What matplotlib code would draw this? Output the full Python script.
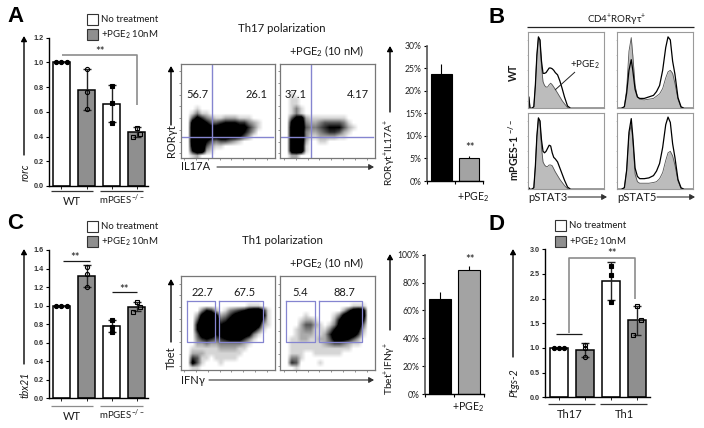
import matplotlib
matplotlib.use('Agg')
import matplotlib.pyplot as plt
import numpy as np

plt.rcParams['font.family'] = ['Lato', 'Open Sans', 'DejaVu Sans']
plt.rcParams['mathtext.default'] = 'regular'

W, H = 704, 428
GREY = '#8c8c8c'
BLUE = '#8585d0'

# bar panels
a_vals = [1.0, 0.78, 0.665, 0.435]
a_err = [0.0, 0.165, 0.15, 0.04]
a_pts = [[1.0, 1.0, 1.0], [0.95, 0.76, 0.62], [0.81, 0.67, 0.51], [0.47, 0.42, 0.40]]
c_vals = [1.0, 1.32, 0.78, 0.99]
c_err = [0.0, 0.12, 0.06, 0.05]
c_pts = [[1.0, 1.0, 1.0], [1.42, 1.34, 1.2], [0.85, 0.77, 0.72], [1.04, 0.99, 0.93]]
d_vals = [1.0, 0.96, 2.36, 1.56]
d_err = [0.0, 0.14, 0.39, 0.29]
d_pts = [[1.0, 1.0, 1.0], [1.07, 1.0, 0.81], [2.67, 2.47, 1.93], [1.85, 1.57, 1.26]]
pct_a = [23.8, 5.2]
pct_a_err = [2.1, 0.4]
pct_c = [68, 89]
pct_c_err = [5.5, 3]

# flow plots, read as density on a 20x20 grid, 0 empty to 9 black
flow_a1 = ["0" * 20] * 9 + [
    "00010000000000000000",
    "00131100000000000000",
    "00475321122211100000",
    "00898644566655321000",
    "00999877888877531000",
    "00999888999886420000",
    "00999877887764200000",
    "00999643443210000000",
    "00899421100000000000",
    "00699210000000000000",
    "00120000000000000000"]
flow_a2 = ["0" * 20] * 6 + [
    "00100000000000000000",
    "00110000000000000000",
    "00110000000000000000",
    "00131000000000000000",
    "00131000000000000000",
    "00478211111111000000",
    "00799322344443100000",
    "00899433456664210000",
    "00899322345542100000",
    "00899311222211000000",
    "00899200110000000000",
    "00899100000000000000",
    "00899100000000000000",
    "00220000000000000000"]
flow_a2 = flow_a2[:20]
flow_c1 = ["0" * 20] * 6 + [
    "00000000000000111000",
    "00003652013456899610",
    "00027997235789999810",
    "00049999457899999510",
    "00069999678999998210",
    "00069998789999974100",
    "00048886789998731000",
    "00035654567775310000",
    "00022322333332100000",
    "00111111222211000000",
    "00222111111110000000",
    "00541101111100000000",
    "00741000100000000000",
    "00110000000000000000"]
flow_c2 = ["0" * 20] * 6 + [
    "00000000000000011100",
    "00000000000002589800",
    "00000100000137999900",
    "00001221000269999700",
    "00002442101379999400",
    "00012331113699997200",
    "00012221125899985100",
    "00112211224777642000",
    "00111111123443211000",
    "00111111111111100000",
    "00111001111110000000",
    "00331000000000000000",
    "00540000100000000000",
    "00010000000000000000"]

# histograms: channel position, then height as a share of the frame
s3_x = [0, .015, .03, .05, .08, .10, .12, .14, .16, .18, .20, .22, .24, .26, .28, .30, .32, .34, .36, .39, .42, .45, .48, .52, .56, 1]
s3_wt_fill = [0, .15, 0, 0, .02, .3, .7, .93, .9, .55, .35, .30, .28, .28, .31, .33, .31, .28, .25, .20, .15, .10, .06, .01, 0, 0]
s3_wt_line = [0, .15, 0, 0, .02, .3, .7, .94, .9, .62, .46, .46, .47, .50, .53, .53, .52, .50, .47, .44, .36, .26, .15, .03, 0, 0]
s3_ko_fill = [0, .02, 0, 0, .02, .3, .7, .93, .9, .55, .36, .32, .30, .30, .32, .32, .31, .27, .23, .18, .13, .09, .05, .01, 0, 0]
s3_ko_line = [0, .02, 0, 0, .02, .3, .7, .94, .9, .65, .50, .48, .50, .54, .58, .57, .48, .42, .40, .36, .28, .20, .12, .03, 0, 0]
s5_x = [0, .06, .10, .13, .16, .19, .21, .24, .27, .30, .36, .42, .48, .52, .56, .60, .64, .67, .70, .73, .76, .80, .84, .88, 1]
s5_wt_fill = [0, 0, .02, .25, .75, .93, .7, .3, .15, .12, .11, .12, .13, .16, .19, .26, .40, .48, .50, .46, .33, .12, .01, 0, 0]
s5_wt_line = [0, 0, .02, .2, .5, .64, .5, .25, .15, .13, .13, .15, .17, .22, .30, .50, .80, .94, .90, .62, .45, .14, .02, 0, 0]
s5_ko_fill = [0, 0, .02, .25, .7, .85, .65, .2, .1, .08, .08, .08, .09, .10, .14, .22, .38, .48, .50, .44, .32, .11, .01, 0, 0]
s5_ko_line = [0, 0, .02, .25, .75, .93, .7, .28, .17, .14, .14, .15, .18, .24, .34, .55, .85, .95, .88, .60, .42, .13, .02, 0, 0]

legend_labels = ['No treatment', '+PGE$_2$ 10nM']
groups_ko = ['WT', 'mPGES$^{-/-}$']
groups_d = ['Th17', 'Th1']

fig = plt.figure(figsize=(W / 100, H / 100), dpi=100)


def px_axes(x0, y0, x1, y1):
    return fig.add_axes([x0 / W, 1 - y1 / H, (x1 - x0) / W, (y1 - y0) / H])


def scale_style(ax, lw=1.0):
    for s in ['top', 'right']:
        ax.spines[s].set_visible(False)
    for s in ['left', 'bottom']:
        ax.spines[s].set_linewidth(lw)
    ax.patch.set_alpha(0)


def dot_bars(box, xcenter, step, ymax, yticks, vals, errs, pts):
    x0, y0, x1, y1 = box
    ax = px_axes(x0, y0, x1, y1)
    pos = np.arange(4)
    cols = ['white', '#8f8f8f', 'white', '#8f8f8f']
    ax.bar(pos, vals, width=0.68, color=cols, edgecolor='black', linewidth=1.1, zorder=2)
    ax.errorbar(pos, vals, yerr=errs, fmt='none', ecolor='#222222', elinewidth=1, capsize=3,
                capthick=1, zorder=3)
    for i in pos:
        off = [-0.2, 0, 0.2] if errs[i] == 0 else [0, 0, 0]
        if i == 3:
            off = [0, 0.14, -0.14]
        face = 'black' if i in (0, 2) else 'none'
        mk = 'o' if i < 2 else 's'
        ax.plot(pos[i] + np.array(off), pts[i], ls='none', marker=mk, ms=3, mfc=face, mec='black',
                mew=0.8, zorder=4)
    ax.set_xlim((x0 - xcenter) / step, (x1 - xcenter) / step)
    ax.set_ylim(0, ymax)
    ax.set_yticks(yticks)
    ax.set_yticklabels(['%.1f' % v for v in yticks], fontfamily='Liberation Sans', fontweight='bold',
                       fontsize=5.2, color='#333333')
    ax.set_xticks(pos)
    ax.set_xticklabels([])
    ax.tick_params(axis='y', length=2.5, width=0.8, pad=1.5)
    ax.tick_params(axis='x', length=2, width=0.6)
    scale_style(ax)
    return ax


def pct_bars(box, ymax, yticks, vals, errs):
    x0, y0, x1, y1 = box
    ax = px_axes(x0, y0, x1, y1)
    ax.bar([0, 1], vals, width=0.74, color=['black', '#a3a3a3'], edgecolor='black', linewidth=0.8,
           yerr=[[0, 0], errs], error_kw=dict(ecolor='black', elinewidth=0.8))
    ax.set_xlim(-0.5, 1.5)
    ax.set_ylim(0, ymax)
    ax.set_yticks(yticks)
    ax.set_yticklabels(['%d%%' % v for v in yticks], fontsize=6.2, color='#222222')
    ax.set_xticks([-0.5, 0.5, 1.5])
    ax.set_xticklabels([])
    ax.tick_params(axis='y', length=2.5, width=0.8, pad=1.5)
    ax.tick_params(axis='x', length=2.5, width=0.8)
    scale_style(ax)
    ax.spines['left'].set_color('#555555')
    ax.spines['left'].set_linewidth(1.2)


def flow_plot(box, rows, gates=None, cross=None):
    ax = px_axes(*box)
    grid = np.array([[int(c) for c in r] for r in rows])
    ax.imshow(grid, cmap='gray_r', vmin=0, vmax=6, extent=[0, 1, 1, 0], aspect='auto',
              interpolation='bilinear')
    if cross:
        ax.axvline(cross[0], color=BLUE, lw=1)
        ax.axhline(cross[1], color=BLUE, lw=1, xmin=0, xmax=0.98)
    for g in gates or []:
        ax.plot([g[0], g[1], g[1], g[0], g[0]], [g[2], g[2], g[3], g[3], g[2]], color=BLUE, lw=0.9)
    ax.set_xlim(0, 1)
    ax.set_ylim(1, 0)
    ax.set_xticks(np.arange(0.04, 1, 0.125))
    ax.set_yticks(np.arange(0.08, 1, 0.125))
    ax.set_xticklabels([])
    ax.set_yticklabels([])
    ax.tick_params(length=1.5, width=0.5, color='#666666')
    for s in ax.spines.values():
        s.set_color('#777777')
        s.set_linewidth(0.9)


def hist_plot(box, x, fill, line):
    ax = px_axes(*box)
    ax.fill_between(x, fill, color='#bcbcbc', lw=0)
    ax.plot(x, fill, color='#555555', lw=0.6)
    ax.plot(x, line, color='black', lw=0.9)
    ax.set_xlim(0, 1)
    ax.set_ylim(0, 1)
    ax.set_xticks([])
    ax.set_yticks(np.arange(0.1, 1, 0.2))
    ax.set_yticklabels([])
    ax.tick_params(length=1, width=0.4, color='#999999')
    for s in ax.spines.values():
        s.set_color('#9a9a9a')
        s.set_linewidth(0.8)


dot_bars((49, 37.7, 148, 186), 61.5, 25, 1.2, [0, .2, .4, .6, .8, 1.0, 1.2], a_vals, a_err, a_pts)
dot_bars((49, 250, 148, 398.3), 61.5, 25, 1.6, [0, .2, .4, .6, .8, 1.0, 1.2, 1.4, 1.6], c_vals, c_err, c_pts)
dot_bars((545, 249.3, 650, 397.3), 559, 26, 3.0, [0, .5, 1.0, 1.5, 2.0, 2.5, 3.0], d_vals, d_err, d_pts)
pct_bars((427.3, 45.7, 483, 181), 30, [0, 5, 10, 15, 20, 25, 30], pct_a, pct_a_err)
pct_bars((425, 254.7, 484, 394), 100, [0, 20, 40, 60, 80, 100], pct_c, pct_c_err)

flow_plot((180.7, 63.7, 274.7, 157.7), flow_a1, cross=(0.33, 0.775))
flow_plot((280.3, 63.7, 374.7, 157.7), flow_a2, cross=(0.32, 0.775))
flow_plot((180.7, 276, 274.7, 370.3), flow_c1,
          gates=[(0.065, 0.363, 0.27, 0.70), (0.41, 0.875, 0.27, 0.70)])
flow_plot((280.3, 276, 374.7, 370.3), flow_c2,
          gates=[(0.06, 0.365, 0.27, 0.70), (0.41, 0.87, 0.27, 0.70)])

hist_plot((527.7, 32.3, 604.3, 108.3), s3_x, s3_wt_fill, s3_wt_line)
hist_plot((616.7, 32.3, 693.3, 108.3), s5_x, s5_wt_fill, s5_wt_line)
hist_plot((527.7, 113.3, 604.3, 189.3), s3_x, s3_ko_fill, s3_ko_line)
hist_plot((616.7, 113.3, 693.3, 189.3), s5_x, s5_ko_fill, s5_ko_line)

# everything else sits on a full-figure layer in pixel coordinates
ov = fig.add_axes([0, 0, 1, 1])
ov.set_xlim(0, W)
ov.set_ylim(H, 0)
ov.axis('off')
ov.patch.set_alpha(0)


def arrow(x0, y0, x1, y1, color='black', lw=1.0):
    ov.annotate('', xy=(x1, y1), xytext=(x0, y0),
                arrowprops=dict(arrowstyle='-|>,head_width=0.17,head_length=0.3', color=color, lw=lw,
                                shrinkA=0, shrinkB=0))


def label(x, y, s, size=8, **kw):
    kw.setdefault('ha', 'center')
    kw.setdefault('va', 'center')
    kw.setdefault('color', '#1a1a1a')
    ov.text(x, y, s, fontsize=size, **kw)


def legend(x, y0, y1):
    for y, col, txt in zip((y0, y1), ('white', '#8f8f8f'), legend_labels):
        ov.add_patch(plt.Rectangle((x, y), 11, 11, fc=col, ec='#333333', lw=0.8))
        label(x + 14, y + 5.5, txt, size=6.9, ha='left')


def line(xs, ys, color='#1a1a1a', lw=0.9):
    ov.plot(xs, ys, color=color, lw=lw, solid_capstyle='butt')


for s, x, y in (('A', 15, 16), ('B', 497, 17), ('C', 15, 223), ('D', 497, 224)):
    label(x, y, s, size=16, fontweight='bold', fontfamily='Liberation Sans', color='black')

legend(87, 13.5, 29)
legend(87, 221, 236)
legend(555, 220, 236)

# panel A and C gene labels and arrows
arrow(24, 155, 24, 36)
label(25, 172, 'rorc', size=7.6, rotation=90, style='italic')
arrow(24, 364, 24, 249)
label(25, 385, 'tbx21', size=7.6, rotation=90, style='italic')
arrow(513, 357, 513, 249)
label(514, 383, 'Ptgs-2', size=7.6, rotation=90, style='italic')

for y_line, y_txt, col in ((191, 201, '#333333'), (406, 416, GREY)):
    line([51, 93], [y_line, y_line], color=col)
    line([100, 143], [y_line, y_line], color=col)
    label(72, y_txt, groups_ko[0], size=8)
    label(122, y_txt - 1, groups_ko[1], size=7)
line([548, 595], [404, 404], color='#333333')
line([600, 647], [404, 404], color='#333333')
label(570, 414, groups_d[0], size=8)
label(624, 414, groups_d[1], size=8)

# significance marks
line([62, 137, 137], [55, 55, 105], color=GREY, lw=1.2)
label(100, 51, '**', size=8)
line([63, 90], [261, 261])
label(75, 258, '**', size=8)
line([112, 137], [292, 292])
label(124, 289, '**', size=8)
line([569, 569, 635, 635], [333, 258, 258, 299], color=GREY, lw=1.2)
line([556, 582], [334, 334])
label(612, 253, '**', size=8)

# Th17 flow labels
label(282, 28, 'Th17 polarization', size=8.2)
label(327, 51, '+PGE$_2$ (10 nM)', size=8)
for x, s in ((197, '56.7'), (257, '26.1'), (296, '37.1'), (358, '4.17')):
    label(x, 94, s, size=8)
arrow(171, 125, 171, 66)
label(171, 141, 'RORγt', size=8, rotation=90)
label(195.5, 167, 'IL17A', size=8)
arrow(217, 167, 374, 167, color='#333333', lw=0.8)

# Th1 flow labels
label(282, 240, 'Th1 polarization', size=8.2)
label(327, 263, '+PGE$_2$ (10 nM)', size=8)
for x, s in ((202, '22.7'), (244, '67.5'), (300, '5.4'), (344, '88.7')):
    label(x, 292, s, size=8)
arrow(171, 342, 171, 279)
label(171, 358, 'Tbet', size=8, rotation=90)
label(193, 380, 'IFNγ', size=8)
arrow(209, 380, 374, 380, color='#333333', lw=0.8)

# percentage bars
arrow(390, 112, 390, 46)
label(390, 152, 'RORγt$^{+}$IL17A$^{+}$', size=7.4, rotation=90)
label(473, 197, '+PGE$_2$', size=7.6)
label(470, 148, '**', size=8)
arrow(390, 330, 390, 254)
label(390, 368, 'Tbet$^{+}$IFNγ$^{+}$', size=7.4, rotation=90)
label(468, 407, '+PGE$_2$', size=7.6)
label(470, 259, '**', size=8)

# panel B
label(617, 20, 'CD4$^{+}$RORγτ$^{+}$', size=7)
line([527, 694], [27, 27], color='#222222', lw=0.9)
label(513, 72, 'WT', size=7.6, rotation=90, fontweight='bold')
label(514, 150, 'mPGES-1 $^{-/-}$', size=7.6, rotation=90, fontweight='bold')
label(548, 197, 'pSTAT3', size=8)
arrow(568, 197, 607, 197, color='#333333', lw=0.8)
label(637, 197, 'pSTAT5', size=8)
arrow(657, 197, 695, 197, color='#333333', lw=0.8)
label(585, 65, '+PGE$_2$', size=7)
line([575, 555], [72, 90], color='#222222', lw=0.7)

fig.savefig('out.png', dpi=100)
